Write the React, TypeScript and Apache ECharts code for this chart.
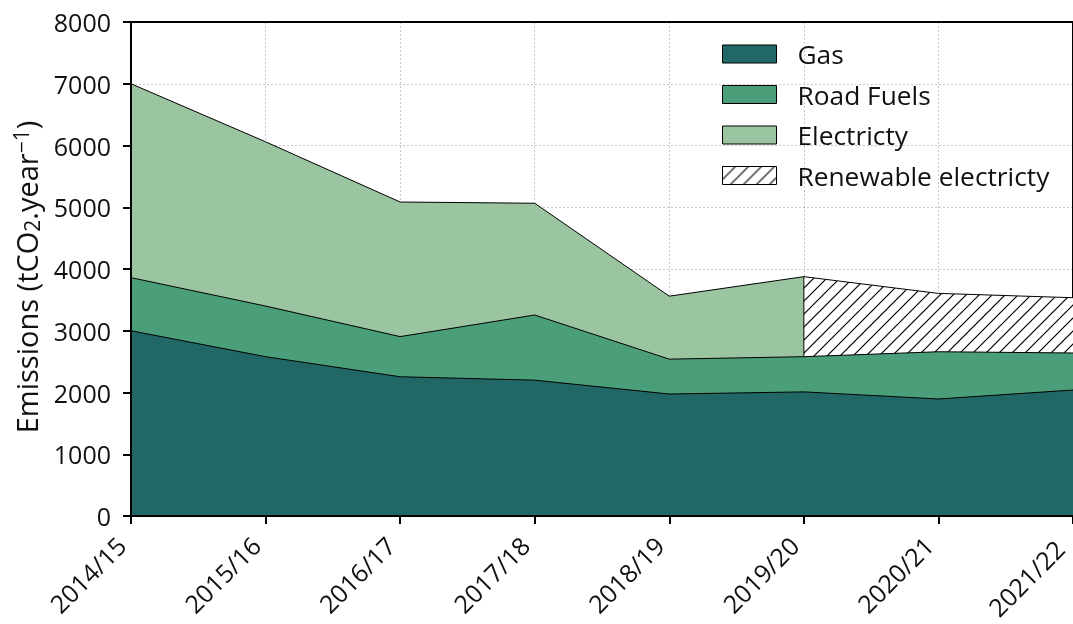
import React, { useEffect, useRef } from "react";
import * as echarts from "echarts";

const categories = ["2014/15", "2015/16", "2016/17", "2017/18", "2018/19", "2019/20", "2020/21", "2021/22"];
const gas = [3000, 2580, 2255, 2200, 1975, 2010, 1895, 2040];
const roadFuels = [860, 820, 650, 1055, 565, 570, 765, 600];
const electricity: (number | null)[] = [3140, 2660, 2180, 1810, 1020, 1296, null, null];
const renewable: (number | null)[] = [null, null, null, null, null, 1296, 945, 895];
const yTicks = [0, 1000, 2000, 3000, 4000, 5000, 6000, 7000, 8000];

const FONT = "Open Sans";
const FS = 25;
const C_GAS = "#216766";
const C_ROAD = "#4a9e7a";
const C_ELEC = "#9bc5a0";

function makeHatch() {
  const s = 13;
  const c = document.createElement("canvas");
  c.width = s;
  c.height = s;
  const g = c.getContext("2d")!;
  g.fillStyle = "#fff";
  g.fillRect(0, 0, s, s);
  g.strokeStyle = "#000";
  g.lineWidth = 1.2;
  g.beginPath();
  g.moveTo(-2, s + 2);
  g.lineTo(s + 2, -2);
  g.moveTo(-2, 2);
  g.lineTo(2, -2);
  g.moveTo(s - 2, s + 2);
  g.lineTo(s + 2, s - 2);
  g.stroke();
  return { image: c, repeat: "repeat" };
}

export default function App() {
  const ref = useRef<HTMLDivElement>(null);
  useEffect(() => {
    if (!ref.current) return;
    const chart = echarts.init(ref.current, null, { renderer: "svg" });
    const roadTop = gas.map((g, i) => g + roadFuels[i]);
    const elecTop = electricity.map((e, i) => (e == null ? "-" : roadTop[i] + e));
    const renTop = renewable.map((r, i) => (r == null ? "-" : roadTop[i] + r));
    const splitIdx = renewable.findIndex((r) => r != null);
    const hatch = makeHatch();
    const edge = { color: "#000", width: 1 };
    const xData = categories.map((c, i) =>
      i === categories.length - 1 ? { value: c, textStyle: { padding: [0, 19, 0, 0] } } : c
    );
    chart.setOption({
      animation: false,
      textStyle: { fontFamily: FONT },
      grid: {
        left: 131,
        right: 0,
        top: 22,
        bottom: 108,
        outerBoundsMode: "none",
        show: true,
        borderColor: "#000",
        borderWidth: 2,
        backgroundColor: "transparent",
      },
      legend: {
        orient: "vertical",
        left: 722,
        top: 41,
        padding: 0,
        icon: "rect",
        itemWidth: 54,
        itemHeight: 18,
        itemGap: 14.5,
        textStyle: { fontSize: 26.3, color: "#111", fontFamily: FONT, lineHeight: 26, padding: [0, 0, 0, 16] },
        data: [
          { name: "Gas", itemStyle: { color: C_GAS, borderColor: "#000", borderWidth: 1 } },
          { name: "Road Fuels", itemStyle: { color: C_ROAD, borderColor: "#000", borderWidth: 1 } },
          { name: "Electricty", itemStyle: { color: C_ELEC, borderColor: "#000", borderWidth: 1 } },
          { name: "Renewable electricty", itemStyle: { color: hatch, borderColor: "#000", borderWidth: 1 } },
        ],
      },
      xAxis: {
        type: "category",
        data: xData,
        boundaryGap: false,
        z: 3,
        axisLine: { lineStyle: { color: "#000", width: 2 } },
        axisTick: { length: 8, lineStyle: { color: "#000", width: 2 } },
        axisLabel: { rotate: 45, fontSize: FS, color: "#111", margin: 15, padding: [0, 14, 0, 0], fontFamily: FONT },
        splitLine: { show: true, lineStyle: { color: "rgba(0,0,0,0.22)", type: [2, 2], width: 1 } },
      },
      yAxis: {
        type: "value",
        min: 0,
        max: 8000,
        interval: 1000,
        z: 3,
        name: "Emissions (tCO{sub|2}.year{sup|\u22121})",
        nameLocation: "middle",
        nameGap: 88,
        nameTextStyle: {
          fontSize: 29,
          color: "#111",
          fontFamily: FONT,
          lineHeight: 32,
          padding: [0, 16, 0, 0],
          rich: {
            sub: { fontSize: 21, fontFamily: FONT, color: "#111", verticalAlign: "bottom", lineHeight: 20 },
            sup: { fontSize: 21, fontFamily: FONT, color: "#111", verticalAlign: "top", lineHeight: 12 },
          },
        },
        axisLine: { show: true, lineStyle: { color: "#000", width: 2 } },
        axisTick: { show: true, length: 8, lineStyle: { color: "#000", width: 2 } },
        axisLabel: {
          fontSize: FS,
          color: "#111",
          margin: 20,
          fontFamily: FONT,
          formatter: (v: number) => (yTicks.includes(v) ? String(v) : ""),
        },
        splitLine: { show: true, lineStyle: { color: "rgba(0,0,0,0.22)", type: [2, 2], width: 1 } },
      },
      series: [
        {
          name: "Electricty",
          type: "line",
          data: elecTop,
          symbol: "none",
          lineStyle: edge,
          areaStyle: { color: C_ELEC, opacity: 1 },
        },
        {
          name: "Renewable electricty",
          type: "line",
          data: renTop,
          symbol: "none",
          lineStyle: edge,
          areaStyle: { color: hatch, opacity: 1 },
        },
        {
          name: "Road Fuels",
          type: "line",
          data: roadTop,
          symbol: "none",
          lineStyle: edge,
          areaStyle: { color: C_ROAD, opacity: 1 },
        },
        {
          name: "Gas",
          type: "line",
          data: gas,
          symbol: "none",
          lineStyle: edge,
          areaStyle: { color: C_GAS, opacity: 1 },
        },
        {
          name: "divider",
          type: "line",
          data: [
            [splitIdx, roadTop[splitIdx]],
            [splitIdx, roadTop[splitIdx] + (renewable[splitIdx] as number)],
          ],
          symbol: "none",
          lineStyle: edge,
        },
      ],
    });
    return () => chart.dispose();
  }, []);
  return <div ref={ref} style={{ position: "fixed", left: 0, top: 0, width: 1073, height: 624 }} />;
}
